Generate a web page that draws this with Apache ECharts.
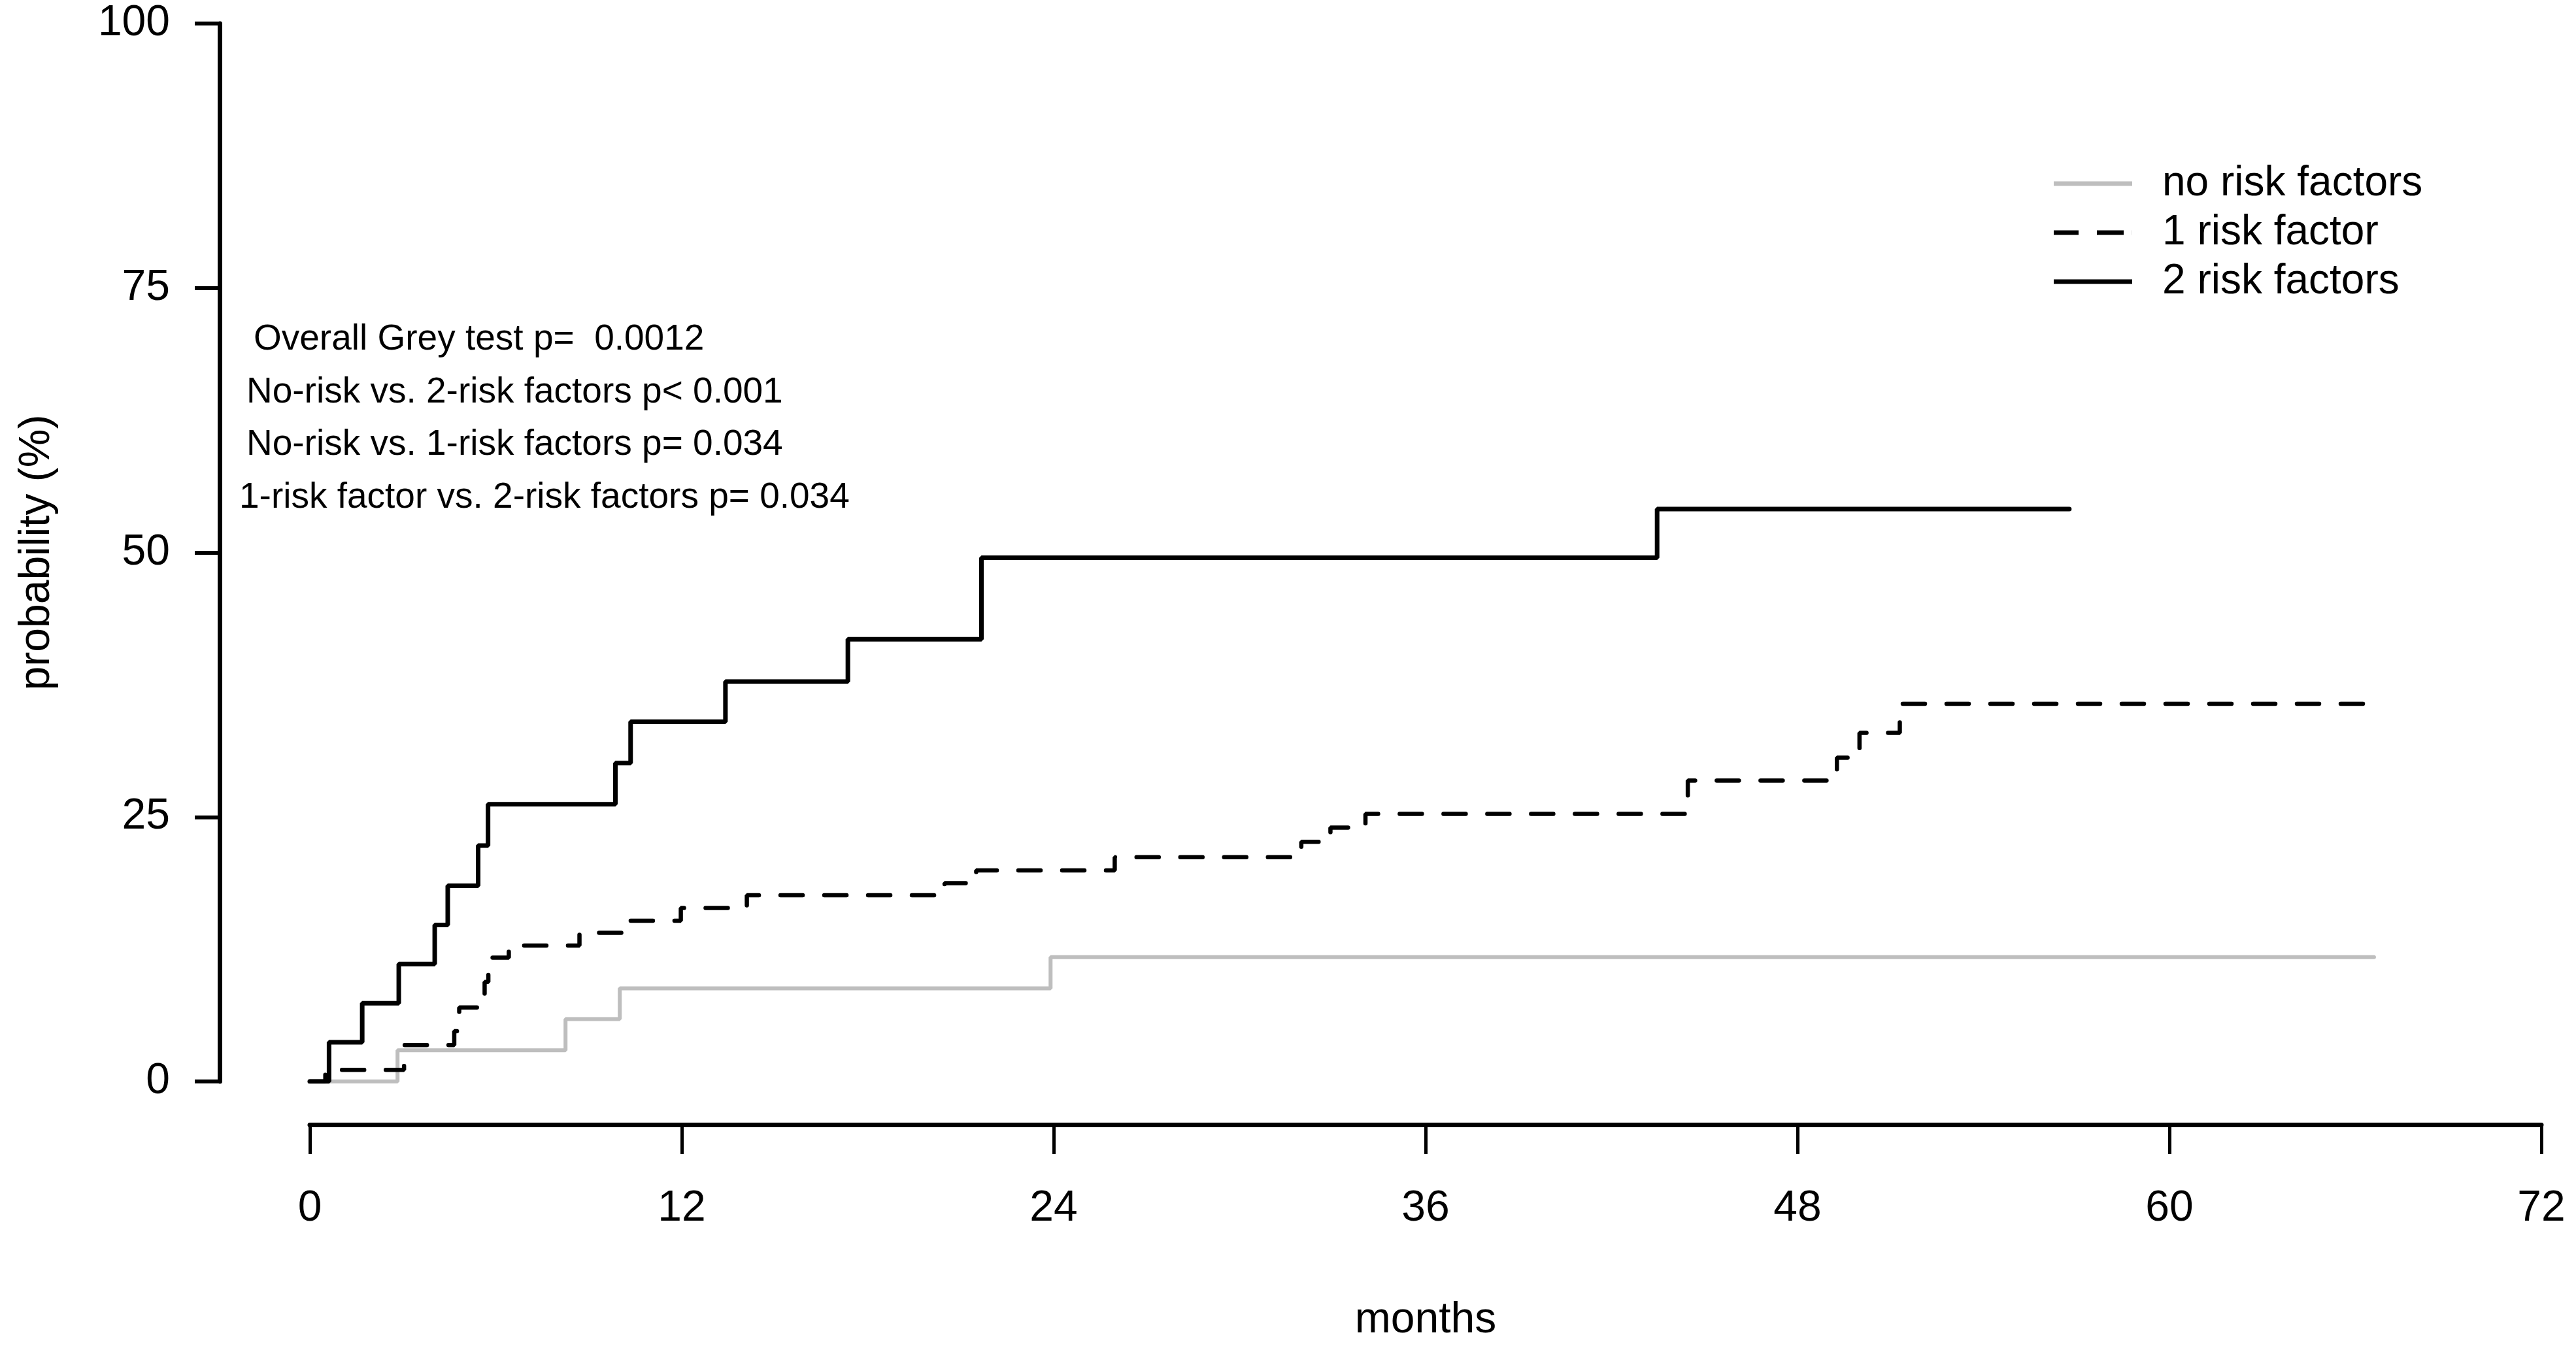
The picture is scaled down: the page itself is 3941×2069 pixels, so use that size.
<!DOCTYPE html>
<html>
<head>
<meta charset="utf-8">
<script src="https://cdn.jsdelivr.net/npm/echarts@6/dist/echarts.min.js"></script>
<style>
html,body{margin:0;padding:0;background:#ffffff;}
#chart{width:3941px;height:2069px;}
</style>
</head>
<body>
<div id="chart"></div>
<script>
// ---------------- data ----------------
const seriesNames = ['no risk factors', '1 risk factor', '2 risk factors'];

const noRiskMonths = [0, 2.83, 8.25, 10.0, 23.9, 66.6];
const noRiskPct    = [0, 2.95, 5.9, 8.8, 11.75, 11.75];

const oneRiskMonths = [0, 0.5, 3.04, 4.66, 4.82, 5.52, 5.64, 5.76, 5.88, 6.42, 8.7, 10.32, 11.97, 14.1, 20.48, 21.5, 25.97, 31.99, 32.93, 34.06, 44.46, 49.27, 50.0, 51.3, 66.68];
const oneRiskPct    = [0, 1.1, 3.45, 4.75, 7.0, 8.2, 9.4, 10.5, 11.7, 12.85, 14.05, 15.2, 16.4, 17.6, 18.75, 19.95, 21.2, 22.65, 24.0, 25.3, 28.45, 30.6, 32.95, 35.7, 35.7];

const twoRiskMonths = [0, 0.62, 1.69, 2.87, 4.03, 4.45, 5.43, 5.75, 9.86, 10.35, 13.41, 17.36, 21.67, 43.47, 56.77];
const twoRiskPct    = [0, 3.7, 7.4, 11.1, 14.8, 18.5, 22.3, 26.2, 30.1, 34.0, 37.8, 41.8, 49.5, 54.1, 54.1];

const xTicks = [0, 12, 24, 36, 48, 60, 72];
const yTicks = [0, 25, 50, 75, 100];

const annotationLines = [
  'Overall Grey test p=  0.0012',
  'No-risk vs. 2-risk factors p< 0.001',
  'No-risk vs. 1-risk factors p= 0.034',
  '1-risk factor vs. 2-risk factors p= 0.034'
];

const xTitle = 'months';
const yTitle = 'probability (%)';

// ---------------- chart ----------------
const FONT = '"Liberation Sans", Arial, Helvetica, sans-serif';
const zip = (xs, ys) => xs.map((x, i) => [x, ys[i]]);

const chart = echarts.init(document.getElementById('chart'), null, {renderer: 'canvas'});

const annoX = [388, 377, 377, 366];
const annoY = [520, 601, 681, 762];

// legend sample shapes (solid bar / two dashes), scaled by legend itemWidth x itemHeight
const solidIcon = 'path://M0,0H120V7H0Z';
const dashIcon = 'path://M0,0H38V7H0Z M66,0H107V7H66Z M119.9,0H120V7H119.9Z';
const legendIcons = [solidIcon, dashIcon, solidIcon];

const option = {
  animation: false,
  backgroundColor: '#ffffff',
  grid: {left: 474, right: 53, top: 36, bottom: 414, containLabel: false},
  legend: {
    data: seriesNames.map((n, i) => ({name: n, icon: legendIcons[i]})),
    orient: 'vertical',
    left: 3137,
    top: 244,
    itemWidth: 120,
    itemHeight: 7,
    itemGap: 11,
    selectedMode: false,
    textStyle: {fontFamily: FONT, fontSize: 64, lineHeight: 64, color: '#000', padding: [0, 0, 0, 41]}
  },
  xAxis: {
    type: 'value',
    min: xTicks[0],
    max: xTicks[xTicks.length - 1],
    interval: 12,
    offset: 66,
    name: xTitle,
    nameLocation: 'middle',
    nameGap: 267,
    nameTextStyle: {fontFamily: FONT, fontSize: 66, color: '#000'},
    axisLine: {show: true, onZero: false, lineStyle: {color: '#000', width: 7}},
    axisTick: {show: true, length: 45, lineStyle: {color: '#000', width: 5}},
    axisLabel: {fontFamily: FONT, fontSize: 66, color: '#000', margin: 96},
    splitLine: {show: false}
  },
  yAxis: {
    type: 'value',
    min: yTicks[0],
    max: yTicks[yTicks.length - 1],
    interval: 25,
    offset: 138,
    name: yTitle,
    nameLocation: 'middle',
    nameRotate: 90,
    nameGap: 246,
    nameTextStyle: {fontFamily: FONT, fontSize: 66, color: '#000'},
    axisLine: {show: true, onZero: false, lineStyle: {color: '#000', width: 7}},
    axisTick: {show: true, length: 38, lineStyle: {color: '#000', width: 6}},
    axisLabel: {fontFamily: FONT, fontSize: 66, color: '#000', margin: 76},
    splitLine: {show: false}
  },
  series: [
    {
      name: seriesNames[0], type: 'line', step: 'end', symbol: 'none',
      data: zip(noRiskMonths, noRiskPct),
      lineStyle: {color: '#BEBEBE', width: 6, type: 'solid', cap: 'round'},
      itemStyle: {color: '#BEBEBE'},
      z: 2
    },
    {
      name: seriesNames[1], type: 'line', step: 'end', symbol: 'none',
      data: zip(oneRiskMonths, oneRiskPct),
      lineStyle: {color: '#000000', width: 6.5, type: [34, 33], cap: 'round'},
      itemStyle: {color: '#000000'},
      z: 3
    },
    {
      name: seriesNames[2], type: 'line', step: 'end', symbol: 'none',
      data: zip(twoRiskMonths, twoRiskPct),
      lineStyle: {color: '#000000', width: 7, type: 'solid', cap: 'round'},
      itemStyle: {color: '#000000'},
      z: 4
    }
  ],
  graphic: annotationLines.map((t, i) => ({
    type: 'text',
    x: annoX[i],
    y: annoY[i],
    style: {text: t, fontFamily: FONT, fontSize: 55, fill: '#000', align: 'left', verticalAlign: 'middle'}
  }))
};

chart.setOption(option);
</script>
</body>
</html>
